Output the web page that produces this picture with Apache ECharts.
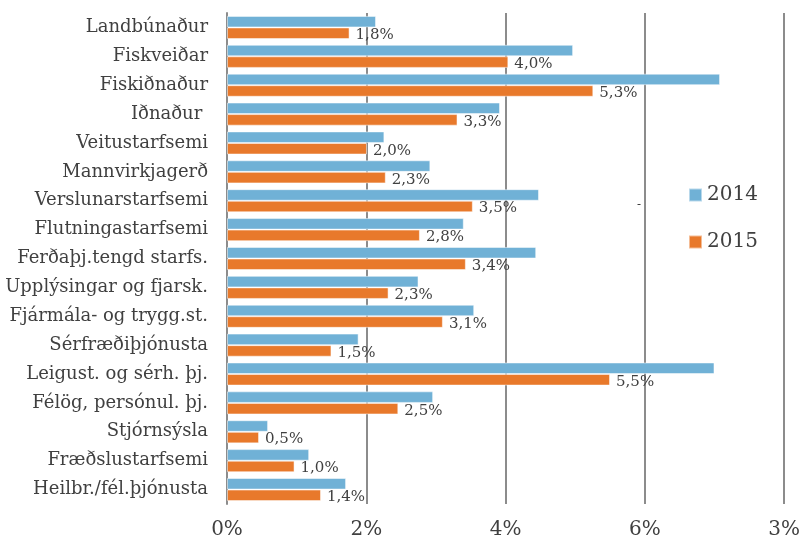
<!DOCTYPE html>
<html>
<head>
<meta charset="utf-8">
<script src="https://cdn.jsdelivr.net/npm/echarts@6/dist/echarts.min.js"></script>
<style>
  html, body { margin: 0; padding: 0; background: #fff; }
  #chart { width: 803px; height: 543px; }
</style>
</head>
<body>
<div id="chart"></div>
<script>
// greinar
var categories = ['Landbúnaður', 'Fiskveiðar', 'Fiskiðnaður', 'Iðnaður ', 'Veitustarfsemi',
    'Mannvirkjagerð', 'Verslunarstarfsemi', 'Flutningastarfsemi', 'Ferðaþj.tengd starfs.',
    'Upplýsingar og fjarsk.', 'Fjármála- og trygg.st.', 'Sérfræðiþjónusta',
    'Leigust. og sérh. þj.', 'Félög, persónul. þj.', 'Stjórnsýsla', 'Fræðslustarfsemi',
    'Heilbr./fél.þjónusta'];
var values2014 = [2.14, 4.97, 7.08, 3.92, 2.26, 2.92, 4.48, 3.40, 4.44, 2.75, 3.55, 1.89, 7.00, 2.96, 0.59, 1.18, 1.71];
var values2015 = [1.76, 4.04, 5.26, 3.31, 2.01, 2.28, 3.53, 2.77, 3.43, 2.32, 3.10, 1.50, 5.50, 2.46, 0.46, 0.97, 1.35];
var tickLabels = ['0%', '2%', '4%', '6%', '3%'];

var font = 'DejaVu Serif';
var myChart = echarts.init(document.getElementById('chart'));

var option = {
    animation: false,
    textStyle: { fontFamily: font },
    color: ['#70B1D6', '#E8792B'],
    legend: {
        orient: 'vertical',
        left: 683,
        top: 180,
        itemWidth: 13,
        itemHeight: 13,
        itemGap: 27,
        icon: 'rect',
        textStyle: { fontFamily: font, fontSize: 20, color: '#404040' },
        data: ['2014', '2015']
    },
    grid: { left: 227, right: 16, top: 13, bottom: 39 },
    xAxis: {
        type: 'value',
        min: 0,
        max: 8,
        interval: 2,
        axisLine: { show: false },
        axisTick: { show: false },
        splitLine: { lineStyle: { color: '#8c8c8c', width: 2 } },
        axisLabel: {
            margin: 16,
            fontSize: 20,
            color: '#404040',
            fontFamily: font,
            formatter: function (v) { return tickLabels[Math.round(v / 2)]; }
        }
    },
    yAxis: {
        type: 'category',
        inverse: true,
        data: categories,
        axisLine: { lineStyle: { color: '#8c8c8c', width: 2 } },
        axisTick: { show: false },
        axisLabel: { margin: 19, fontSize: 18, color: '#404040', fontFamily: font }
    },
    series: [{
        name: '2014',
        type: 'bar',
        barGap: '0%',
        barCategoryGap: '20%',
        itemStyle: { borderColor: 'rgba(255,255,255,0.5)', borderWidth: 1 },
        data: values2014
    }, {
        name: '2015',
        type: 'bar',
        itemStyle: { borderColor: 'rgba(255,255,255,0.5)', borderWidth: 1 },
        label: {
            show: true,
            position: 'right',
            distance: 6,
            offset: [0, 2],
            fontSize: 15,
            color: '#404040',
            fontFamily: font,
            formatter: function (p) { return p.value.toFixed(1).replace('.', ',') + '%'; }
        },
        data: values2015
    }],
    graphic: [{
        type: 'text',
        left: 637,
        top: 199,
        style: { text: '-', fontSize: 12, fill: '#404040', fontFamily: font }
    }]
};
myChart.setOption(option);
</script>
</body>
</html>
